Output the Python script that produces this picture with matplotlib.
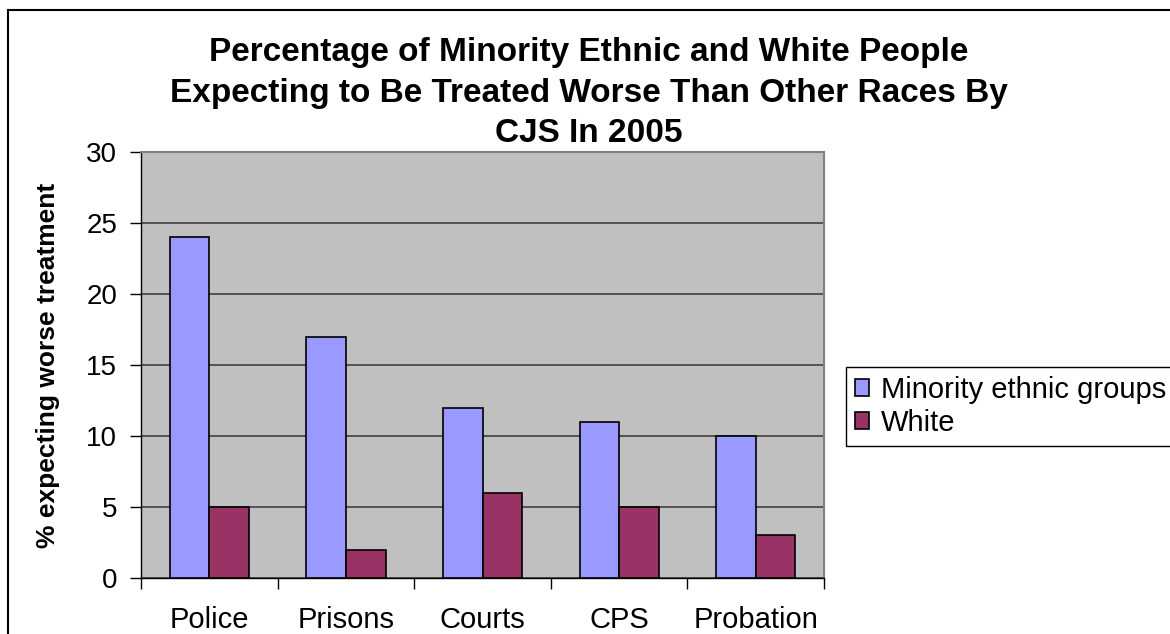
import numpy as np
import matplotlib
matplotlib.use('Agg')
import matplotlib.pyplot as plt
from matplotlib.patches import Rectangle

# Survey results, CJS 2005
agencies = ['Police', 'Prisons', 'Courts', 'CPS', 'Probation']
minority = [24, 17, 12, 11, 10]
white = [5, 2, 6, 5, 3]
series_names = ['Minority ethnic groups', 'White']

plt.rcParams['font.family'] = ['Liberation Sans', 'DejaVu Sans']

fig = plt.figure(figsize=(11.7, 6.34), dpi=100)
ax = fig.add_axes([0.1205, 0.0883, 0.5838, 0.672])

# outer chart border (runs off the right and bottom edges)
fig.patches.append(Rectangle((8 / 1170, -0.05), 1.1, 1 - 10 / 634 + 0.05,
                             transform=fig.transFigure, fill=False,
                             edgecolor='black', linewidth=1.5))

x = np.arange(len(agencies)) + 0.5
width = 0.29
ax.bar(x - width / 2, minority, width, color='#9999FF', edgecolor='black',
       linewidth=1.2, label=series_names[0], zorder=3)
ax.bar(x + width / 2, white, width, color='#993366', edgecolor='black',
       linewidth=1.2, label=series_names[1], zorder=3)

ax.set_facecolor('#C0C0C0')
ax.set_xlim(0, len(agencies))
ax.set_ylim(0, 30)
ax.set_yticks(range(0, 31, 5))
ax.yaxis.grid(True, color='#404040', linewidth=1.2, zorder=1)
ax.set_axisbelow(True)

# category labels sit between the boundary ticks
ax.set_xticks(np.arange(len(agencies) + 1))
ax.set_xticklabels([])
ax.set_xticks(x, minor=True)
ax.set_xticklabels(agencies, minor=True, fontsize=21)
ax.tick_params(axis='x', which='minor', length=0, pad=20)
ax.tick_params(axis='x', which='major', length=8, width=1, direction='out')
ax.tick_params(axis='y', length=8, width=1, pad=9, labelsize=20)

for side in ['top', 'right']:
    ax.spines[side].set_color('#808080')
    ax.spines[side].set_linewidth(1.5)
for side in ['left', 'bottom']:
    ax.spines[side].set_color('black')
    ax.spines[side].set_linewidth(1)

ax.set_ylabel('% expecting worse treatment', fontsize=19, fontweight='bold',
              labelpad=19)

fig.text(0.503, 1 - 37 / 634,
         'Percentage of Minority Ethnic and White People\n'
         'Expecting to Be Treated Worse Than Other Races By\n'
         'CJS In 2005',
         ha='center', va='top', fontsize=24, fontweight='bold',
         linespacing=1.4)

leg = ax.legend(loc='upper left', bbox_to_anchor=(846 / 1170, 1 - 367 / 634),
                bbox_transform=fig.transFigure, borderaxespad=0,
                fontsize=21, handlelength=0.5, handleheight=0.5,
                handletextpad=0.4, borderpad=0.3, labelspacing=0.18,
                fancybox=False, framealpha=1)
leg.get_frame().set_edgecolor('black')
leg.get_frame().set_linewidth(1)

fig.savefig('out.png', dpi=100)
